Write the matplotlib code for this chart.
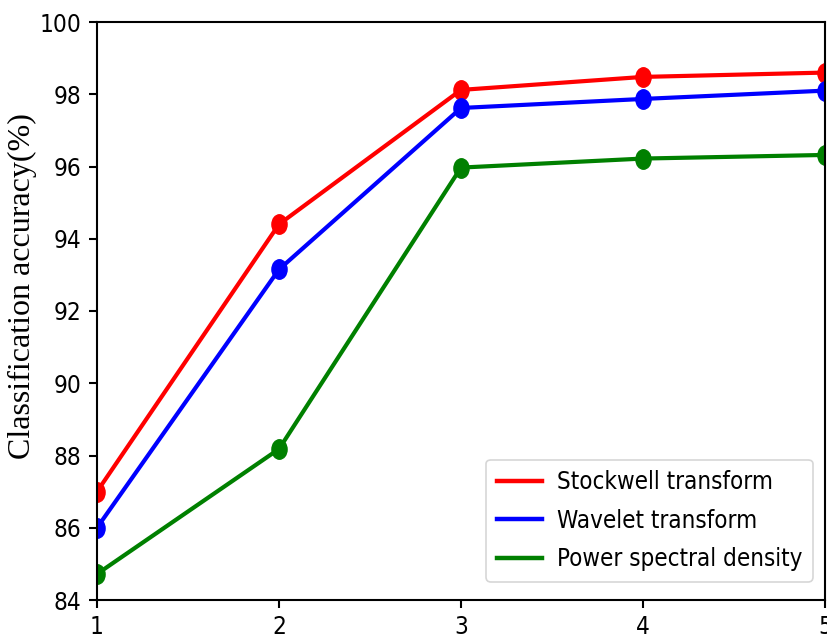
import matplotlib
matplotlib.use("Agg")
import matplotlib.pyplot as plt
from matplotlib.path import Path

x = [1, 2, 3, 4, 5]
stockwell = [87.0, 94.4, 98.12, 98.48, 98.6]
wavelet = [86.0, 93.15, 97.62, 97.87, 98.1]
psd = [84.72, 88.18, 95.97, 96.22, 96.32]
labels = ["Stockwell transform", "Wavelet transform", "Power spectral density"]
colors = ["red", "blue", "green"]

# the picture is squeezed sideways a bit, so the dots are ellipses
circ = Path.unit_circle()
dot = Path(circ.vertices * [0.78, 1.0], circ.codes)

fig = plt.figure(figsize=(8.27, 6.35), dpi=100)
ax = fig.add_axes([97 / 827, 1 - 600 / 635, (825 - 97) / 827, (600 - 22) / 635])

lines = []
for ys, c, lab in zip([stockwell, wavelet, psd], colors, labels):
	ax.plot(x, ys, color=c, lw=3.0, marker=dot, ms=14)
	lines.append(plt.Line2D([], [], color=c, lw=3.2, label=lab))

ax.set_xlim(1, 5)
ax.set_ylim(84, 100)
ax.set_xticks(x)
ax.set_yticks(range(84, 101, 2))
ax.tick_params(length=6, width=1.5, pad=5)
for t in ax.get_xticklabels() + ax.get_yticklabels():
	t.set_fontsize(17.5)
	t.set_fontstretch("condensed")
for s in ax.spines.values():
	s.set_linewidth(1.5)
ax.set_ylabel("Classification accuracy(%)", fontfamily="Liberation Serif", fontsize=23)
ax.yaxis.set_label_coords(-0.083, 0.543)

leg = ax.legend(handles=lines, loc="lower right", bbox_to_anchor=(0.9835, 0.031),
	borderaxespad=0, handlelength=1.9, handletextpad=0.6, labelspacing=0.6,
	borderpad=0.45, prop={"size": 17.3, "stretch": "condensed"})
leg.get_frame().set_linewidth(1.2)

fig.savefig("out.png", dpi=100)
